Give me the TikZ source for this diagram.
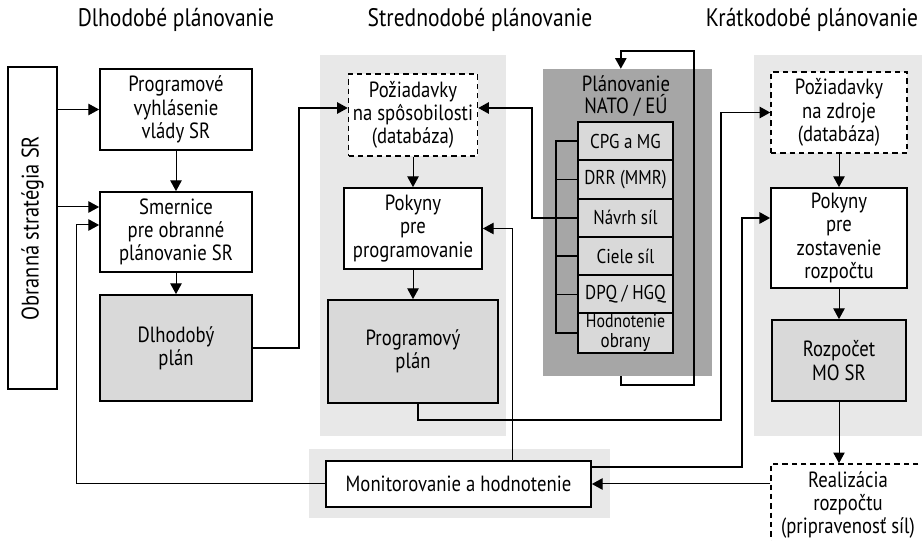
\documentclass[tikz,border=0pt]{standalone}
\usepackage{fontspec}
\setmainfont{PT Sans}[FakeStretch=0.85]
\usetikzlibrary{arrows.meta,calc}
\definecolor{bglight}{RGB}{232,232,232}
\definecolor{boxgray}{RGB}{217,217,217}
\definecolor{natogray}{RGB}{166,166,166}
\tikzset{
  box/.style={draw, line width=1.3pt, fill=white, align=center, inner sep=2pt, font=\fontsize{16.5}{17.5}\selectfont},
  graybox/.style={box, fill=boxgray},
  dashbox/.style={box, line width=1.1pt, dash pattern=on 4pt off 3pt},
  rowbox/.style={draw, line width=1.4pt, fill=boxgray, minimum width=71.25pt, minimum height=28.75pt, inner sep=1pt, align=center, font=\fontsize{15}{15}\selectfont},
  arr/.style={line width=0.75pt, -{Triangle[length=8pt,width=8.5pt]}},
  arrthick/.style={arr, line width=1.3pt},
  thickline/.style={line width=1.3pt},
  head/.style={font=\fontsize{19}{20}\selectfont}
}
\begin{document}
\begin{tikzpicture}[x=0.75pt,y=0.75pt,yscale=-1,xscale=1]
\useasboundingbox (0,0) rectangle (922,541);
\clip (0,0) rectangle (922,541);

%Shape: Rectangle (backgrounds)
\fill[bglight] (320,55) rectangle (506,436);
\fill[bglight] (754,55) rectangle (930,436);
\fill[bglight] (309,449) rectangle (610,518);
\node[fill=natogray, minimum width=126.75pt, minimum height=230.25pt, inner sep=0pt] (nato) at (627.5,222.5) {};

%Headings
\node[head] (hdl) at (176,20) {Dlhodobé plánovanie};
\node[head] (hst) at (480,20) {Strednodobé plánovanie};
\node[head] (hkr) at (812,20) {Krátkodobé plánovanie};

%Long term
\node[box, rotate=90, minimum width=241.5pt, minimum height=36.75pt, font=\fontsize{18}{19}\selectfont] (obr) at (32.5,228) {Obranná stratégia SR};
\node[box, minimum width=114pt, minimum height=60.75pt] (prog) at (176,109.5) {Programové\\vyhlásenie\\vlády SR};
\node[box, minimum width=114pt, minimum height=60pt] (smer) at (176,232) {Smernice\\pre obranné\\plánovanie SR};
\node[graybox, minimum width=114pt, minimum height=79.5pt] (dlh) at (176,348) {Dlhodobý\\plán};

%Medium term
\node[dashbox, minimum width=96.75pt, minimum height=61.5pt] (pozSp) at (413,115) {Požiadavky\\na spôsobilosti\\(databáza)};
\node[box, minimum width=103.5pt, minimum height=60.75pt] (pokProg) at (413,228.5) {Pokyny\\pre\\programovanie};
\node[graybox, minimum width=127.5pt, minimum height=77.25pt] (progPlan) at (413,351.5) {Programový\\plán};

%NATO / EU
\node[font=\fontsize{16.5}{17}\selectfont, align=center] (natoT) at (626,96) {Plánovanie\\NATO / EÚ};
\foreach \t [count=\i] in {CPG a MG, DRR (MMR), Návrh síl, Ciele síl, DPQ / HGQ, {\fontsize{14}{12.5}\selectfont Hodnotenie\\obrany}}
  \node[rowbox] (r\i) at (625.5,{122+38.33*(\i-0.5)}) {\t};

%Short term
\node[dashbox, minimum width=102pt, minimum height=60.75pt] (pozZdr) at (839,112.5) {Požiadavky\\na zdroje\\(databáza)};
\node[box, minimum width=102pt, minimum height=75pt] (pokZdr) at (839,238) {Pokyny\\pre\\zostavenie\\rozpočtu};
\node[graybox, minimum width=100.5pt, minimum height=60.75pt] (rozp) at (839,360.5) {Rozpočet\\MO SR};
\node[dashbox, minimum width=115.5pt, minimum height=61.5pt] (real) at (848,505) {Realizácia\\rozpočtu\\(pripravenosť síl)};

%Monitoring
\node[box, minimum width=198.75pt, minimum height=34.5pt] (mon) at (458.5,484) {Monitorovanie a hodnotenie};

%Straight Lines
\draw[arr] (obr.south |- prog.west) -- (prog.west);
\draw[arr] ($(obr.south |- smer.west)+(0,-25)$) -- ($(smer.west)+(0,-25)$);
\draw[arr] (prog) -- (smer);
\draw[arr] (smer) -- (dlh);
\draw[arrthick] (dlh.east) -- ++(46,0) |- ($(pozSp.west)+(0,-7)$);
\draw[arr] (pozSp) -- (pokProg);
\draw[arr] (pokProg) -- (progPlan);
\draw[arrthick] ($(progPlan.south)+(5,0)$) -- ++(0,16) -| ($(pozZdr.west)+(-49,0)$) -- (pozZdr.west);

%NATO links
\draw[thickline] (r1.west) -- ++(-21,0) |- (r6.west);
\foreach \i in {2,...,5}
  \draw[thickline] (r\i.west) -- ++(-21,0);
\draw[arrthick] (r3.west) -- ++(-45,0) |- ($(pozSp.east)+(0,-7)$);
\draw[arrthick] ([xshift=-5pt]nato.south) -- ++(0,9) -- ++(73,0) -- ++(0,-334) -- ++(-73,0) -- ([xshift=-5pt]nato.north);

%Short term links
\draw[arr] (pozZdr) -- (pokZdr);
\draw[arr] (pokZdr) -- (rozp);
\draw[arr] (rozp.south) -- (rozp.south |- real.north);

%Monitoring links
\draw[arr] (real.west |- mon.east) -- (mon.east);
\draw[arr] (mon.west) -| ($(smer.west)+(-23,-7)$) -- ($(smer.west)+(0,-7)$);
\draw[arr] ($(mon.north)+(54,0)$) |- (pokProg.east);
\draw[arrthick] ($(mon.east)+(0,-17)$) -| ($(pokZdr.west)+(-28,-20)$) -- ($(pokZdr.west)+(0,-20)$);

\end{tikzpicture}
\end{document}
